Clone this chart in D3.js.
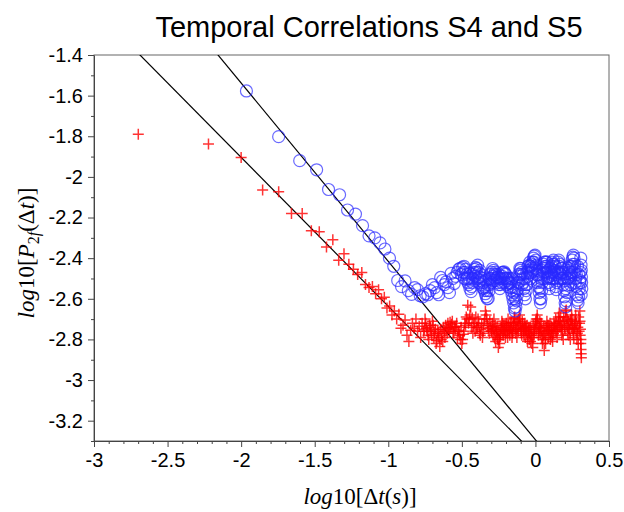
<!DOCTYPE html>
<html>
<head>
<meta charset="utf-8">
<script src="https://cdn.jsdelivr.net/npm/d3@7"></script>
<style>
  body { margin: 0; background: #fff; }
  svg { display: block; }
</style>
</head>
<body>
<div id="chart"></div>
<script>
// tick labels
const xTicks = [-3, -2.5, -2, -1.5, -1, -0.5, 0, 0.5];
const yTicks = [-3.2, -3, -2.8, -2.6, -2.4, -2.2, -2, -1.8, -1.6, -1.4];

// S4 series (red +)
const redX = [-2.699, -2.222, -2.000, -1.854, -1.745, -1.658, -1.585, -1.523, -1.469, -1.420,
  -1.377, -1.337, -1.301, -1.268, -1.237, -1.208, -1.180, -1.155, -1.131, -1.108,
  -1.086, -1.066, -1.046, -1.027, -1.009, -0.991, -0.975, -0.959, -0.943, -0.928,
  -0.914, -0.900, -0.886, -0.873, -0.860, -0.848, -0.836, -0.824, -0.812, -0.801,
  -0.790, -0.78, -0.77, -0.76, -0.75, -0.74, -0.73, -0.72, -0.71, -0.70,
  -0.69, -0.68, -0.67, -0.66, -0.65, -0.64, -0.63, -0.62, -0.61, -0.60,
  -0.59, -0.58, -0.57, -0.56, -0.55, -0.54, -0.53, -0.52, -0.51, -0.50,
  -0.49, -0.48, -0.47, -0.46, -0.45, -0.44, -0.43, -0.42, -0.41, -0.40,
  -0.39, -0.38, -0.37, -0.36, -0.35, -0.34, -0.33, -0.32, -0.31, -0.30,
  -0.294, -0.288, -0.282, -0.276, -0.270, -0.264, -0.258, -0.252, -0.246, -0.240,
  -0.234, -0.228, -0.222, -0.216, -0.210, -0.204, -0.198, -0.192, -0.186, -0.180,
  -0.174, -0.168, -0.162, -0.156, -0.150, -0.144, -0.138, -0.132, -0.126, -0.120,
  -0.114, -0.108, -0.102, -0.096, -0.090, -0.084, -0.078, -0.072, -0.066, -0.060,
  -0.054, -0.048, -0.042, -0.036, -0.030, -0.024, -0.018, -0.012, -0.006, 0.000,
  0.006, 0.012, 0.018, 0.024, 0.030, 0.036, 0.042, 0.048, 0.054, 0.060,
  0.066, 0.072, 0.078, 0.084, 0.090, 0.096, 0.102, 0.108, 0.114, 0.120,
  0.126, 0.132, 0.138, 0.144, 0.150, 0.156, 0.162, 0.168, 0.174, 0.180,
  0.186, 0.192, 0.198, 0.204, 0.210, 0.216, 0.222, 0.228, 0.234, 0.240,
  0.246, 0.252, 0.258, 0.264, 0.270, 0.276, 0.282, 0.288, 0.294, 0.300,
  0.304, 0.308, 0.310, 0.311, 0.312, 0.306, 0.302,
  -0.755, -0.745, -0.735, -0.725, -0.715, -0.705, -0.695, -0.685, -0.675, -0.665,
  -0.655, -0.645, -0.635, -0.625, -0.615, -0.605, -0.595, -0.585, -0.575, -0.565,
  -0.555, -0.545, -0.535, -0.525, -0.515, -0.505, -0.495, -0.485, -0.475, -0.465,
  -0.455, -0.445, -0.435, -0.425, -0.415, -0.405, -0.395, -0.385, -0.375, -0.365,
  -0.355, -0.345, -0.335, -0.325, -0.315, -0.305,
  -0.297, -0.291, -0.285, -0.279, -0.273, -0.267, -0.261, -0.255, -0.249, -0.243,
  -0.237, -0.231, -0.225, -0.219, -0.213, -0.207, -0.201, -0.195, -0.189, -0.183,
  -0.177, -0.171, -0.165, -0.159, -0.153, -0.147, -0.141, -0.135, -0.129, -0.123,
  -0.117, -0.111, -0.105, -0.099, -0.093, -0.087, -0.081, -0.075, -0.069, -0.063,
  -0.057, -0.051, -0.045, -0.039, -0.033, -0.027, -0.021, -0.015, -0.009, -0.003,
  0.003, 0.009, 0.015, 0.021, 0.027, 0.033, 0.039, 0.045, 0.051, 0.057,
  0.063, 0.069, 0.075, 0.081, 0.087, 0.093, 0.099, 0.105, 0.111, 0.117,
  0.123, 0.129, 0.135, 0.141, 0.147, 0.153, 0.159, 0.165, 0.171, 0.177,
  0.183, 0.189, 0.195, 0.201, 0.207, 0.213, 0.219, 0.225, 0.231, 0.237,
  0.243, 0.249, 0.255, 0.261, 0.267, 0.273, 0.279, 0.285, 0.291, 0.297,
  0.303, 0.309];
const redY = [-1.790, -1.838, -1.905, -2.064, -2.073, -2.180, -2.180, -2.265, -2.270, -2.345,
  -2.310, -2.410, -2.378, -2.430, -2.455, -2.480, -2.470, -2.530, -2.545, -2.540,
  -2.575, -2.555, -2.600, -2.592, -2.645, -2.635, -2.680, -2.660, -2.700, -2.676,
  -2.745, -2.730, -2.705, -2.780, -2.810, -2.755, -2.720, -2.745, -2.700, -2.760,
  -2.735, -2.79, -2.72, -2.76, -2.70, -2.745, -2.78, -2.73, -2.76, -2.71,
  -2.79, -2.75, -2.805, -2.77, -2.835, -2.80, -2.81, -2.76, -2.73, -2.77,
  -2.745, -2.715, -2.725, -2.76, -2.74, -2.735, -2.79, -2.76, -2.80, -2.82,
  -2.775, -2.72, -2.69, -2.632, -2.70, -2.64, -2.695, -2.73, -2.76, -2.74,
  -2.70, -2.77, -2.75, -2.79, -2.72, -2.66, -2.70, -2.745, -2.71, -2.76,
  -2.735, -2.78, -2.70, -2.75, -2.81, -2.76, -2.79, -2.84, -2.80, -2.77,
  -2.74, -2.71, -2.76, -2.73, -2.75, -2.79, -2.72, -2.76, -2.70, -2.755,
  -2.78, -2.74, -2.715, -2.77, -2.73, -2.695, -2.75, -2.72, -2.79, -2.74,
  -2.70, -2.68, -2.73, -2.76, -2.71, -2.745, -2.78, -2.72, -2.74, -2.77,
  -2.81, -2.76, -2.80, -2.74, -2.78, -2.82, -2.84, -2.79, -2.75, -2.72,
  -2.70, -2.68, -2.73, -2.76, -2.71, -2.745, -2.79, -2.82, -2.78, -2.855,
  -2.80, -2.74, -2.71, -2.755, -2.73, -2.77, -2.80, -2.76, -2.79, -2.75,
  -2.72, -2.74, -2.70, -2.76, -2.73, -2.69, -2.67, -2.71, -2.75, -2.78,
  -2.72, -2.69, -2.74, -2.66, -2.655, -2.70, -2.74, -2.78, -2.72, -2.705,
  -2.68, -2.73, -2.77, -2.745, -2.71, -2.76, -2.80, -2.74, -2.69, -2.72,
  -2.78, -2.82, -2.85, -2.87, -2.89, -2.75, -2.66,
  -2.75, -2.72, -2.76, -2.80, -2.74, -2.78, -2.73, -2.77, -2.82, -2.76,
  -2.79, -2.75, -2.78, -2.74, -2.79, -2.75, -2.72, -2.76, -2.74, -2.71,
  -2.77, -2.75, -2.72, -2.76, -2.78, -2.74, -2.80, -2.76, -2.73, -2.70,
  -2.72, -2.68, -2.74, -2.77, -2.72, -2.69, -2.74, -2.72, -2.78, -2.73,
  -2.76, -2.70, -2.68, -2.73, -2.77, -2.74,
  -2.76, -2.72, -2.75, -2.79, -2.73, -2.77, -2.74, -2.80, -2.76, -2.82,
  -2.78, -2.75, -2.72, -2.78, -2.76, -2.73, -2.77, -2.74, -2.79, -2.73,
  -2.76, -2.72, -2.75, -2.79, -2.76, -2.72, -2.69, -2.77, -2.75, -2.71,
  -2.76, -2.73, -2.70, -2.75, -2.78, -2.72, -2.76, -2.74, -2.79, -2.75,
  -2.73, -2.78, -2.74, -2.77, -2.81, -2.76, -2.79, -2.73, -2.77, -2.74,
  -2.71, -2.75, -2.70, -2.78, -2.74, -2.77, -2.72, -2.76, -2.80, -2.74,
  -2.77, -2.82, -2.76, -2.73, -2.79, -2.75, -2.72, -2.78, -2.74, -2.81,
  -2.77, -2.73, -2.76, -2.72, -2.79, -2.75, -2.71, -2.74, -2.69, -2.73,
  -2.76, -2.80, -2.71, -2.75, -2.69, -2.73, -2.77, -2.71, -2.75, -2.80,
  -2.74, -2.70, -2.75, -2.79, -2.73, -2.68, -2.72, -2.77, -2.82, -2.76,
  -2.71, -2.80];

// S5 series (blue o)
const blueX = [-1.964, -1.745, -1.602, -1.487, -1.406, -1.331, -1.277, -1.223, -1.175, -1.131,
  -1.092, -1.056, -1.023, -0.992, -0.963, -0.936, -0.910, -0.886, -0.864, -0.842,
  -0.821, -0.802, -0.783, -0.765, -0.747, -0.731, -0.715, -0.700, -0.685, -0.671,
  -0.657, -0.644, -0.631, -0.619, -0.607, -0.595, -0.584, -0.573, -0.562, -0.552,
  -0.542, -0.532, -0.522, -0.513, -0.504, -0.495, -0.486, -0.478, -0.469, -0.461,
  -0.453, -0.445, -0.437, -0.429, -0.422, -0.414, -0.407, -0.400, -0.393, -0.386,
  -0.379, -0.372, -0.365, -0.358, -0.352, -0.346, -0.340, -0.334, -0.327, -0.321,
  -0.315, -0.309, -0.303, -0.297, -0.291, -0.285, -0.279, -0.273, -0.267, -0.261,
  -0.255, -0.249, -0.243, -0.237, -0.231, -0.225, -0.219, -0.213, -0.207, -0.201,
  -0.195, -0.189, -0.183, -0.177, -0.171, -0.165, -0.159, -0.153, -0.148, -0.143,
  -0.138, -0.133, -0.128, -0.123, -0.118, -0.113, -0.108, -0.103, -0.098, -0.093,
  -0.088, -0.083, -0.078, -0.073, -0.068, -0.063, -0.058, -0.053, -0.048, -0.043,
  -0.038, -0.033, -0.028, -0.023, -0.018, -0.013, -0.008, -0.003, 0.002, 0.006,
  0.010, 0.014, 0.018, 0.022, 0.026, 0.030, 0.034, 0.038, 0.042, 0.046,
  0.050, 0.054, 0.058, 0.062, 0.066, 0.070, 0.074, 0.078, 0.082, 0.086,
  0.090, 0.094, 0.098, 0.102, 0.106, 0.110, 0.114, 0.118, 0.122, 0.126,
  0.130, 0.134, 0.138, 0.142, 0.146, 0.150, 0.154, 0.158, 0.162, 0.166,
  0.170, 0.174, 0.178, 0.182, 0.186, 0.190, 0.194, 0.198, 0.202, 0.206,
  0.210, 0.214, 0.218, 0.222, 0.226, 0.230, 0.234, 0.238, 0.242, 0.246,
  0.250, 0.254, 0.258, 0.262, 0.266, 0.270, 0.274, 0.278, 0.282, 0.286,
  0.290, 0.294, 0.298, 0.302, 0.306, 0.310, 0.312, 0.313, 0.314, 0.315,
  -0.490, -0.482, -0.474, -0.466, -0.458, -0.450, -0.442, -0.434, -0.426, -0.418,
  -0.410, -0.402, -0.394, -0.386, -0.378, -0.370, -0.362, -0.354, -0.346, -0.338,
  -0.330, -0.322, -0.314, -0.306, -0.298, -0.290, -0.282, -0.274, -0.266, -0.258,
  -0.250, -0.242, -0.234, -0.226, -0.218, -0.210, -0.202, -0.194, -0.186, -0.178,
  -0.170, -0.162, -0.154, -0.146, -0.138, -0.130, -0.122, -0.114, -0.106, -0.098,
  -0.090, -0.082, -0.074, -0.066, -0.058, -0.050, -0.042, -0.034, -0.026, -0.018,
  -0.010, -0.002, 0.006, 0.014, 0.022, 0.030, 0.038, 0.046, 0.054, 0.062,
  0.070, 0.078, 0.086, 0.094, 0.102, 0.110, 0.118, 0.126, 0.134, 0.142,
  0.150, 0.158, 0.166, 0.174, 0.182, 0.190, 0.198, 0.206, 0.214, 0.222,
  0.230, 0.238, 0.246, 0.254, 0.262, 0.270, 0.278, 0.286, 0.294, 0.302,
  0.308, 0.311];
const blueY = [-1.577, -1.802, -1.920, -1.965, -2.062, -2.088, -2.163, -2.183, -2.240, -2.290,
  -2.300, -2.325, -2.355, -2.400, -2.440, -2.510, -2.540, -2.512, -2.560, -2.578,
  -2.545, -2.555, -2.585, -2.590, -2.575, -2.580, -2.560, -2.530, -2.545, -2.570,
  -2.580, -2.495, -2.510, -2.530, -2.517, -2.545, -2.570, -2.475, -2.500, -2.525,
  -2.490, -2.470, -2.455, -2.450, -2.480, -2.445, -2.440, -2.470, -2.505, -2.500,
  -2.530, -2.550, -2.565, -2.520, -2.480, -2.455, -2.445, -2.450, -2.434, -2.470,
  -2.492, -2.510, -2.530, -2.545, -2.550, -2.560, -2.575, -2.590, -2.600, -2.598,
  -2.560, -2.530, -2.500, -2.470, -2.451, -2.460, -2.480, -2.500, -2.510, -2.495,
  -2.492, -2.480, -2.500, -2.530, -2.520, -2.490, -2.470, -2.467, -2.475, -2.500,
  -2.530, -2.510, -2.520, -2.525, -2.545, -2.560, -2.580, -2.600, -2.620, -2.645,
  -2.660, -2.640, -2.610, -2.580, -2.550, -2.520, -2.490, -2.460, -2.451, -2.470,
  -2.500, -2.520, -2.550, -2.580, -2.600, -2.560, -2.530, -2.490, -2.460, -2.435,
  -2.420, -2.440, -2.470, -2.450, -2.420, -2.400, -2.390, -2.385, -2.410, -2.434,
  -2.460, -2.484, -2.510, -2.540, -2.570, -2.600, -2.620, -2.600, -2.560, -2.520,
  -2.480, -2.450, -2.430, -2.420, -2.440, -2.418, -2.440, -2.470, -2.500, -2.492,
  -2.520, -2.550, -2.530, -2.500, -2.470, -2.440, -2.420, -2.430, -2.410, -2.430,
  -2.460, -2.500, -2.540, -2.555, -2.520, -2.470, -2.420, -2.410, -2.440, -2.475,
  -2.500, -2.480, -2.450, -2.470, -2.500, -2.530, -2.560, -2.590, -2.620, -2.640,
  -2.610, -2.570, -2.533, -2.500, -2.460, -2.440, -2.470, -2.500, -2.480, -2.440,
  -2.410, -2.395, -2.385, -2.400, -2.430, -2.460, -2.500, -2.540, -2.580, -2.607,
  -2.620, -2.590, -2.550, -2.510, -2.470, -2.434, -2.460, -2.492, -2.520, -2.550,
  -2.470, -2.500, -2.455, -2.480, -2.520, -2.500, -2.475, -2.540, -2.500, -2.470,
  -2.490, -2.470, -2.500, -2.520, -2.460, -2.480, -2.500, -2.520, -2.540, -2.510,
  -2.560, -2.530, -2.500, -2.480, -2.520, -2.490, -2.510, -2.470, -2.480, -2.520,
  -2.530, -2.550, -2.500, -2.470, -2.500, -2.520, -2.480, -2.500, -2.540, -2.500,
  -2.520, -2.500, -2.540, -2.570, -2.600, -2.560, -2.520, -2.480, -2.450, -2.480,
  -2.530, -2.480, -2.500, -2.530, -2.470, -2.440, -2.470, -2.500, -2.430, -2.460,
  -2.420, -2.450, -2.480, -2.520, -2.480, -2.550, -2.500, -2.460, -2.500, -2.470,
  -2.450, -2.420, -2.460, -2.490, -2.450, -2.480, -2.500, -2.470, -2.440, -2.480,
  -2.510, -2.470, -2.430, -2.450, -2.500, -2.470, -2.510, -2.550, -2.500, -2.450,
  -2.490, -2.530, -2.470, -2.430, -2.470, -2.520, -2.480, -2.440, -2.480, -2.520,
  -2.400, -2.580];

// straight-line fits (slope, intercept)
const fitS5 = [-0.878, -3.294];
const fitS4 = [-0.733, -3.370];

function init() {
  const width = 624, height = 512;
  const left = 94, right = 609, top = 55, bottom = 441;

  const svg = d3.select("#chart").append("svg")
    .attr("width", width)
    .attr("height", height)
    .style("font-family", "'Liberation Sans', Arial, sans-serif");

  const x = d3.scaleLinear().domain([-3, 0.5]).range([left, right]);
  const y = d3.scaleLinear().domain([-3.3, -1.4]).range([bottom, top]);

  svg.append("defs").append("clipPath").attr("id", "plotclip")
    .append("rect")
    .attr("x", left).attr("y", top)
    .attr("width", right - left).attr("height", bottom - top);

  // frame
  svg.append("rect")
    .attr("x", left).attr("y", top)
    .attr("width", right - left).attr("height", bottom - top)
    .attr("fill", "none")
    .attr("stroke", "#666")
    .attr("stroke-width", 1);

  // minor ticks
  const xMinor = d3.range(-30, 6).map(d => d / 10).filter(d => !xTicks.some(t => Math.abs(t - d) < 1e-6));
  const yMinor = d3.range(-33, -13).map(d => d / 10).filter(d => !yTicks.some(t => Math.abs(t - d) < 1e-6));

  svg.append("g")
    .attr("transform", `translate(0,${bottom})`)
    .call(d3.axisBottom(x).tickValues(xMinor).tickSize(3).tickFormat(""))
    .call(g => g.select(".domain").remove())
    .selectAll("line").attr("stroke", "#444");

  svg.append("g")
    .attr("transform", `translate(${left},0)`)
    .call(d3.axisLeft(y).tickValues(yMinor).tickSize(3).tickFormat(""))
    .call(g => g.select(".domain").remove())
    .selectAll("line").attr("stroke", "#444");

  // major axes
  const xAxis = svg.append("g")
    .attr("transform", `translate(0,${bottom})`)
    .call(d3.axisBottom(x).tickValues(xTicks).tickSize(6).tickSizeOuter(0).tickPadding(6)
      .tickFormat(d => String(d)));
  const yAxis = svg.append("g")
    .attr("transform", `translate(${left},0)`)
    .call(d3.axisLeft(y).tickValues(yTicks).tickSize(6).tickSizeOuter(0).tickPadding(5)
      .tickFormat(d => String(d)));

  [xAxis, yAxis].forEach(g => {
    g.select(".domain").attr("stroke", "#444");
    g.selectAll(".tick line").attr("stroke", "#444");
    g.selectAll(".tick text")
      .attr("fill", "#000")
      .style("font-family", "'Liberation Sans', Arial, sans-serif")
      .style("font-size", "20px");
  });

  const plot = svg.append("g").attr("clip-path", "url(#plotclip)");

  // fit lines
  [fitS4, fitS5].forEach(f => {
    const pts = [-3, 0.5].map(v => [v, f[0] * v + f[1]]);
    plot.append("path")
      .attr("d", d3.line().x(d => x(d[0])).y(d => y(d[1]))(pts))
      .attr("fill", "none")
      .attr("stroke", "#000")
      .attr("stroke-width", 1.2);
  });

  // S4 plus markers
  const s = 5.5;
  plot.append("g")
    .selectAll("path")
    .data(redX.map((v, i) => [v, redY[i]]))
    .join("path")
    .attr("d", d => {
      const cx = x(d[0]), cy = y(d[1]);
      return `M${cx - s},${cy}H${cx + s}M${cx},${cy - s}V${cy + s}`;
    })
    .attr("stroke", "#ff0000")
    .attr("stroke-width", 1.5)
    .attr("stroke-opacity", 0.8)
    .attr("fill", "none");

  // S5 circle markers
  plot.append("g")
    .selectAll("circle")
    .data(blueX.map((v, i) => [v, blueY[i]]))
    .join("circle")
    .attr("cx", d => x(d[0]))
    .attr("cy", d => y(d[1]))
    .attr("r", 6)
    .attr("fill", "none")
    .attr("stroke", "#2a2aff")
    .attr("stroke-width", 1.2)
    .attr("stroke-opacity", 0.7);

  // title
  svg.append("text")
    .attr("x", 369).attr("y", 37)
    .attr("text-anchor", "middle")
    .style("font-size", "29px")
    .text("Temporal Correlations S4 and S5");

  // axis labels (math style)
  const serif = "'Liberation Serif', 'DejaVu Serif', serif";
  const xl = svg.append("text")
    .attr("x", 360).attr("y", 504)
    .attr("text-anchor", "middle")
    .style("font-family", serif)
    .style("font-size", "23px");
  xl.append("tspan").style("font-style", "italic").text("log");
  xl.append("tspan").text("10[Δ");
  xl.append("tspan").style("font-style", "italic").text("t");
  xl.append("tspan").text("(");
  xl.append("tspan").style("font-style", "italic").text("s");
  xl.append("tspan").text(")]");

  const yl = svg.append("text")
    .attr("transform", "translate(34,253) rotate(-90)")
    .attr("text-anchor", "middle")
    .style("font-family", serif)
    .style("font-size", "23px");
  yl.append("tspan").style("font-style", "italic").text("log");
  yl.append("tspan").text("10[");
  yl.append("tspan").style("font-style", "italic").text("P");
  yl.append("tspan").attr("dy", 5).style("font-size", "16px").text("2");
  yl.append("tspan").style("font-size", "16px").style("font-style", "italic").text("f");
  yl.append("tspan").attr("dy", -5).text("(Δ");
  yl.append("tspan").style("font-style", "italic").text("t");
  yl.append("tspan").text(")]");
}

window.onload = init;
</script>
</body>
</html>
